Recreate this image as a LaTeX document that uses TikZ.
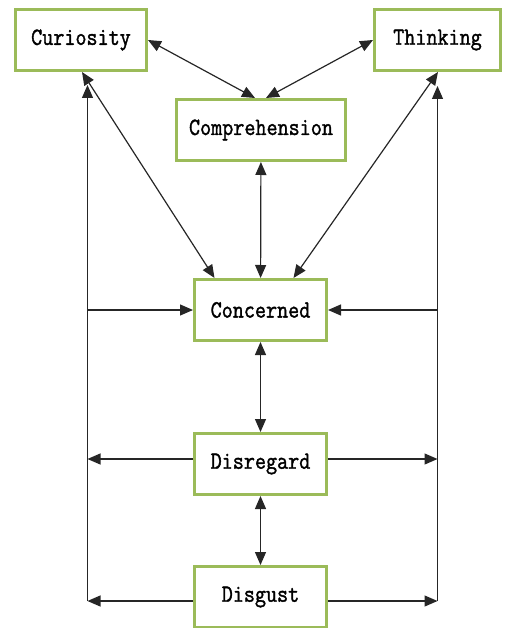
\documentclass[tikz,border=0pt]{standalone}
\usepackage{fontspec}
\newfontfamily\boxfont[FakeBold=1.6]{Latin Modern Mono}
\usetikzlibrary{arrows.meta}
\definecolor{olivegreen}{HTML}{9BBB59}
\newcommand{\tall}[1]{\scalebox{1}[1.15]{#1}}

\begin{document}
\begin{tikzpicture}[x=1pt, y=-1pt,
  state/.style={draw=olivegreen, line width=3pt, fill=white, minimum height=61pt,
                font=\boxfont\fontsize{21.5}{21.5}\selectfont},
  arr/.style={-{Triangle[length=13pt,width=11pt]}, line width=1.2pt, black!85},
  dbl/.style={{Triangle[length=13pt,width=11pt]}-{Triangle[length=13pt,width=11pt]}, line width=1.2pt, black!85}
]
\useasboundingbox (0,0) rectangle (505,628);
\node[state, minimum width=131pt] (cur) at (81,40) {\tall{Curiosity}};
\node[state, minimum width=126pt] (thk) at (437.5,40) {\tall{Thinking}};
\node[state, minimum width=169pt] (comp) at (261,130) {\tall{Comprehension}};
\node[state, minimum width=132pt] (conc) at (260.5,310) {\tall{Concerned}};
\node[state, minimum width=132pt] (disr) at (260.5,464) {\tall{Disregard}};
\node[state, minimum width=132pt] (disg) at (260.5,597) {\tall{Disgust}};
% side rails
\coordinate (ltop) at (87.5,85);
\coordinate (lbot) at (87.5,601);
\coordinate (rtop) at (437.5,86);
\coordinate (rbot) at (437.5,601);
\draw[dbl] (cur.east) -- ([xshift=-6pt]comp.north);
\draw[dbl] (thk.west) -- ([xshift=5pt]comp.north);
\draw[dbl] ([xshift=1pt]cur.south) -- ([xshift=-46pt]conc.north);
\draw[dbl] ([xshift=0.5pt]thk.south) -- ([xshift=33pt]conc.north);
\draw[dbl] (comp) -- (conc);
\draw[dbl] (conc) -- (disr);
\draw[dbl] (disr) -- (disg);
\draw[arr] (lbot) -- (ltop);
\draw[arr] (rbot) -- (rtop);
\draw[arr] (ltop |- conc) -- (conc.west);
\draw[arr] (rtop |- conc) -- (conc.east);
\draw[arr] ([yshift=5pt]disr.west) -- ([yshift=5pt]ltop |- disr);
\draw[arr] ([yshift=5pt]disr.east) -- ([yshift=5pt]rtop |- disr);
\draw[arr] (disg.west |- lbot) -- (lbot);
\draw[arr] (disg.east |- rbot) -- (rbot);
\end{tikzpicture}
\end{document}
